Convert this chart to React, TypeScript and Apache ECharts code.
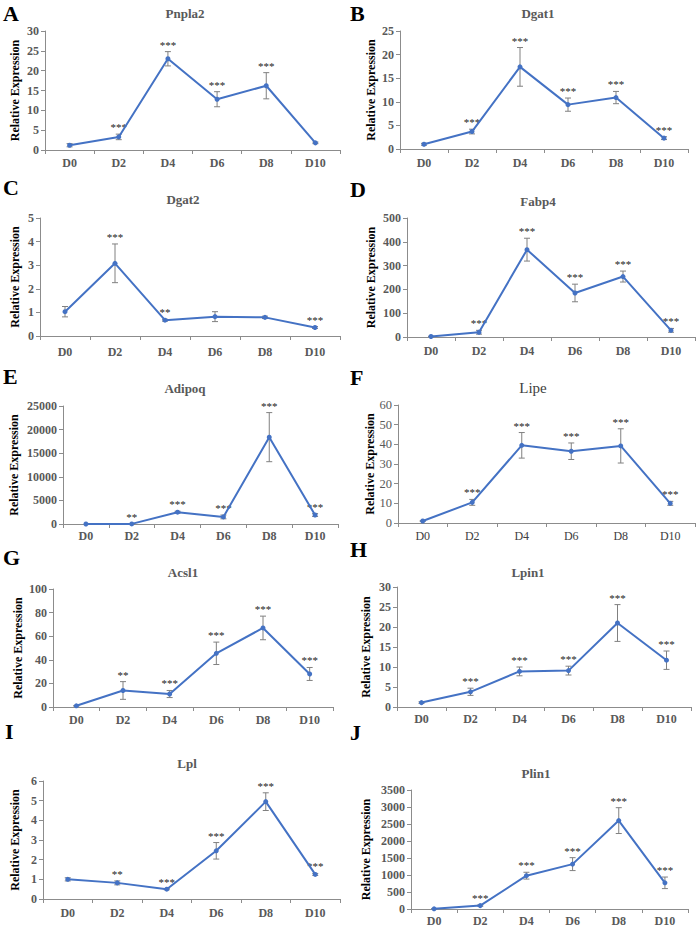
import React, { useEffect, useRef } from "react";
import * as echarts from "echarts";

const days = ["D0", "D2", "D4", "D6", "D8", "D10"];

const genes = ["Pnpla2", "Dgat1", "Dgat2", "Fabp4", "Adipoq", "Lipe", "Acsl1", "Lpin1", "Lpl", "Plin1"];
const letters = ["A", "B", "C", "D", "E", "F", "G", "H", "I", "J"];
const yMaxes = [30, 25, 5, 500, 25000, 60, 100, 30, 6, 3500];
const yIntervals = [5, 5, 1, 100, 5000, 10, 20, 5, 1, 500];

const pnpla2Mean = [1.2, 3.3, 23.0, 12.8, 16.2, 1.8];
const pnpla2Err = [0.4, 0.7, 1.8, 1.9, 3.3, 0.2];
const pnpla2Sig = ["", "***", "***", "***", "***", ""];

const dgat1Mean = [1.0, 3.7, 17.4, 9.4, 10.9, 2.3];
const dgat1Err = [0.2, 0.5, 4.1, 1.4, 1.3, 0.3];
const dgat1Sig = ["", "***", "***", "***", "***", "***"];

const dgat2Mean = [1.03, 3.08, 0.67, 0.82, 0.79, 0.36];
const dgat2Err = [0.22, 0.82, 0.04, 0.21, 0.05, 0.04];
const dgat2Sig = ["", "***", "**", "", "", "***"];

const fabp4Mean = [2, 20, 367, 185, 254, 28];
const fabp4Err = [1, 8, 48, 37, 23, 8];
const fabp4Sig = ["", "***", "***", "***", "***", "***"];

const adipoqMean = [0, 20, 2500, 1500, 18400, 1900];
const adipoqErr = [0, 10, 200, 400, 5200, 300];
const adipoqSig = ["", "**", "***", "***", "***", "***"];

const lipeMean = [1.0, 10.5, 39.5, 36.5, 39.2, 10.0];
const lipeErr = [0.2, 1.5, 6.5, 4.2, 8.7, 1.0];
const lipeSig = ["", "***", "***", "***", "***", "***"];

const acsl1Mean = [1.0, 14.0, 11.0, 45.5, 67.0, 28.0];
const acsl1Err = [0.3, 7.5, 3.0, 9.5, 10.0, 5.5];
const acsl1Sig = ["", "**", "***", "***", "***", "***"];

const lpin1Mean = [1.1, 3.8, 8.9, 9.1, 21.0, 11.7];
const lpin1Err = [0.2, 0.9, 1.1, 1.1, 4.6, 2.3];
const lpin1Sig = ["", "***", "***", "***", "***", "***"];

const lplMean = [1.0, 0.82, 0.5, 2.45, 4.95, 1.25];
const lplErr = [0.08, 0.1, 0.03, 0.42, 0.45, 0.05];
const lplSig = ["", "**", "***", "***", "***", "***"];

const plin1Mean = [5, 100, 980, 1320, 2600, 770];
const plin1Err = [2, 20, 100, 190, 380, 170];
const plin1Sig = ["", "***", "***", "***", "***", "***"];

const means = [pnpla2Mean, dgat1Mean, dgat2Mean, fabp4Mean, adipoqMean, lipeMean, acsl1Mean, lpin1Mean, lplMean, plin1Mean];
const errs = [pnpla2Err, dgat1Err, dgat2Err, fabp4Err, adipoqErr, lipeErr, acsl1Err, lpin1Err, lplErr, plin1Err];
const sigs = [pnpla2Sig, dgat1Sig, dgat2Sig, fabp4Sig, adipoqSig, lipeSig, acsl1Sig, lpin1Sig, lplSig, plin1Sig];

// layout (positions only)
const layout = [
  { left: 45, top: 31, width: 295, height: 119, nameGap: 24, lx: 3, ly: 13, tx: 185, ty: 13, lm: 7 },
  { left: 400, top: 31, width: 288, height: 118, nameGap: 23, lx: 350, ly: 13, tx: 538, ty: 13, lm: 8 },
  { left: 40, top: 218, width: 300, height: 118, nameGap: 19, lx: 3, ly: 187, tx: 183, ty: 199, lm: 10 },
  { left: 407, top: 218, width: 288, height: 119, nameGap: 30, lx: 350, ly: 189, tx: 538, ty: 201, lm: 8 },
  { left: 63, top: 406, width: 275, height: 118, nameGap: 43, lx: 3, ly: 376, tx: 185, ty: 388, lm: 6 },
  { left: 398, top: 405, width: 297, height: 118, nameGap: 21, lx: 350, ly: 377, tx: 533, ty: 388, lm: 7 },
  { left: 53, top: 589, width: 280, height: 118, nameGap: 29, lx: 3, ly: 557, tx: 183, ty: 572, lm: 7 },
  { left: 397, top: 587, width: 294, height: 120, nameGap: 25, lx: 350, ly: 549, tx: 528, ty: 572, lm: 6 },
  { left: 43, top: 781, width: 297, height: 118, nameGap: 22, lx: 5, ly: 731, tx: 187, ty: 763, lm: 8 },
  { left: 411, top: 790, width: 277, height: 119, nameGap: 39, lx: 350, ly: 732, tx: 536, ty: 773, lm: 6 },
];

const SERIF = "Liberation Serif";
const BLUE = "#4472C4";
const GREY = "#595959";
const AXIS = "#8c8c8c";

export default function App() {
  const ref = useRef<HTMLDivElement>(null);
  useEffect(() => {
    if (!ref.current) return;
    const chart = echarts.init(ref.current, null, { renderer: "svg" });
    const grids: any[] = [];
    const xAxes: any[] = [];
    const yAxes: any[] = [];
    const series: any[] = [];
    const graphics: any[] = [];
    layout.forEach((L, i) => {
      const light = i === 5;
      grids.push({ left: L.left, top: L.top, width: L.width, height: L.height, containLabel: false });
      xAxes.push({
        type: "category",
        gridIndex: i,
        data: days,
        boundaryGap: true,
        axisLine: { lineStyle: { color: AXIS, width: 1 } },
        axisTick: { show: true, length: 4, lineStyle: { color: AXIS } },
        axisLabel: {
          margin: L.lm,
          fontFamily: SERIF,
          fontSize: 12,
          fontWeight: light ? "normal" : "bold",
          color: light ? "#404040" : GREY,
        },
        splitLine: { show: false },
      });
      yAxes.push({
        type: "value",
        gridIndex: i,
        min: 0,
        max: yMaxes[i],
        interval: yIntervals[i],
        name: "Relative Expression",
        nameLocation: "middle",
        nameGap: L.nameGap,
        nameRotate: 90,
        nameTextStyle: { fontFamily: SERIF, fontSize: 12, fontWeight: "bold", color: "#000" },
        axisLine: { show: true, lineStyle: { color: AXIS, width: 1 } },
        axisTick: { show: true, length: 4, lineStyle: { color: AXIS } },
        axisLabel: {
          margin: 6,
          fontFamily: SERIF,
          fontSize: light ? 12.5 : 12,
          fontWeight: light ? "normal" : "bold",
          color: GREY,
          formatter: (v: number) => String(v),
        },
        splitLine: { show: false },
      });
      const sig = sigs[i];
      series.push({
        type: "custom",
        xAxisIndex: i,
        yAxisIndex: i,
        clip: false,
        z: 2,
        data: means[i].map((m, k) => [k, m, errs[i][k]]),
        renderItem: (params: any, api: any) => {
          const k = api.value(0);
          const m = api.value(1);
          const e = api.value(2);
          const top = api.coord([k, m + e]);
          const bot = api.coord([k, Math.max(m - e, 0)]);
          const x = top[0];
          const children: any[] = [];
          if (e > 0) {
            const st = { stroke: "#808080", lineWidth: 1 };
            children.push({ type: "line", shape: { x1: x, y1: top[1], x2: x, y2: bot[1] }, style: st });
            children.push({ type: "line", shape: { x1: x - 3, y1: top[1], x2: x + 3, y2: top[1] }, style: st });
            children.push({ type: "line", shape: { x1: x - 3, y1: bot[1], x2: x + 3, y2: bot[1] }, style: st });
          }
          const s = sig[params.dataIndex];
          if (s) {
            children.push({
              type: "text",
              x: x,
              y: top[1] - 7,
              style: {
                text: s,
                align: "center",
                verticalAlign: "middle",
                fill: "#222",
                fontSize: 11,
                fontFamily: SERIF,
              },
            });
          }
          return { type: "group", children };
        },
      });
      series.push({
        type: "line",
        xAxisIndex: i,
        yAxisIndex: i,
        data: means[i],
        z: 3,
        symbol: "circle",
        symbolSize: 5,
        lineStyle: { color: BLUE, width: 2 },
        itemStyle: { color: BLUE },
      });
      graphics.push({
        type: "text",
        x: L.lx,
        y: L.ly,
        style: {
          text: letters[i],
          fill: "#000",
          fontSize: 22,
          fontWeight: "bold",
          fontFamily: SERIF,
          align: "left",
          verticalAlign: "middle",
        },
      });
      graphics.push({
        type: "text",
        x: L.tx,
        y: L.ty,
        style: {
          text: genes[i],
          fill: light ? "#404040" : GREY,
          fontSize: light ? 15 : 13,
          fontWeight: light ? "normal" : "bold",
          fontFamily: SERIF,
          align: "center",
          verticalAlign: "middle",
        },
      });
    });
    chart.setOption({
      animation: false,
      backgroundColor: "#fff",
      textStyle: { fontFamily: SERIF },
      grid: grids,
      xAxis: xAxes,
      yAxis: yAxes,
      series,
      graphic: { elements: graphics },
    });
    return () => chart.dispose();
  }, []);
  return <div ref={ref} style={{ position: "absolute", left: 0, top: 0, width: 697, height: 927 }} />;
}
